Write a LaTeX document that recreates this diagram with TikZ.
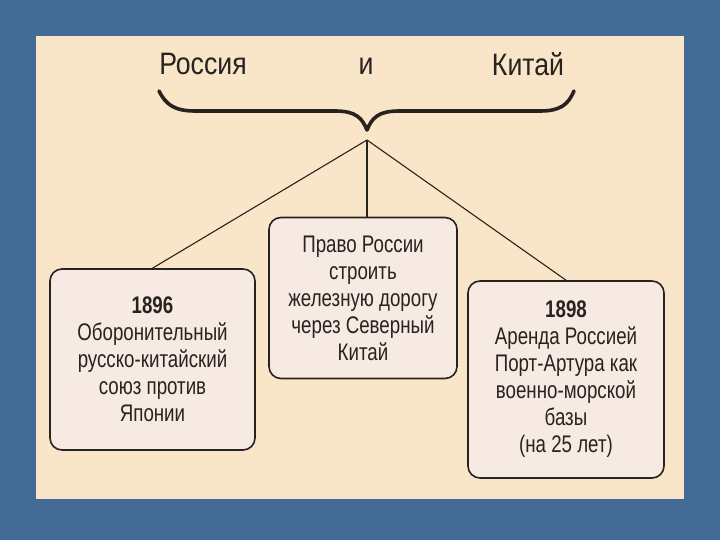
\documentclass[tikz,border=0pt]{standalone}
\usepackage{fontspec}
\setmainfont{Liberation Sans}[FakeStretch=0.78]
\newfontfamily\titlefont{Liberation Sans}[FakeStretch=0.86]
\definecolor{slideblue}{RGB}{68,106,150}
\definecolor{paper}{RGB}{249,229,199}
\definecolor{boxfill}{RGB}{246,234,226}
\definecolor{ink}{RGB}{40,35,32}
\tikzset{
  titletext/.style={font=\titlefont\fontsize{31}{34}\selectfont, text=ink, inner sep=0pt},
  infobox/.style={draw=ink, line width=1.6pt, fill=boxfill, rounded corners=12pt,
    align=center, text=ink, font=\fontsize{24}{27}\selectfont, inner sep=0pt},
  link/.style={draw=ink, line width=1.1pt},
  brace/.style={draw=ink, line width=3.6pt, line cap=round, line join=round}
}
\begin{document}
\begin{tikzpicture}[x=1pt,y=-1pt]
\useasboundingbox (0,0) rectangle (720,540);
\fill[slideblue] (0,0) rectangle (720,540);
\fill[paper] (36,36) rectangle (684,499);

\node[titletext] (rus) at (203,64) {Россия};
\node[titletext] (and) at (366,66) {и};
\node[titletext] (chn) at (528,64) {Китай};

\path[brace] (159,91) .. controls (166,105) and (175,111) .. (195,111)
  -- (335,111) .. controls (356,111) and (362,118) .. (367,130)
  .. controls (372,118) and (378,111) .. (399,111)
  -- (540,111) .. controls (560,111) and (568,105) .. (574,91);

\coordinate (hub) at (367,140);

\node[infobox, minimum width=205pt, minimum height=181pt] (left) at (152.5,359.5)
  {\textbf{1896}\\Оборонительный\\русско-китайский\\союз против\\Японии};
\node[infobox, minimum width=188pt, minimum height=161pt] (mid) at (363,298)
  {Право России\\строить\\железную дорогу\\через Северный\\Китай};
\node[infobox, minimum width=196pt, minimum height=197pt] (right) at (566,379.5)
  {\textbf{1898}\\Аренда Россией\\Порт-Артура как\\военно-морской\\базы\\(на 25 лет)};

\draw[link] (hub) -- (left.north);
\draw[link] (hub) -- (hub |- mid.north);
\draw[link] (hub) -- (right.north);
\end{tikzpicture}
\end{document}
